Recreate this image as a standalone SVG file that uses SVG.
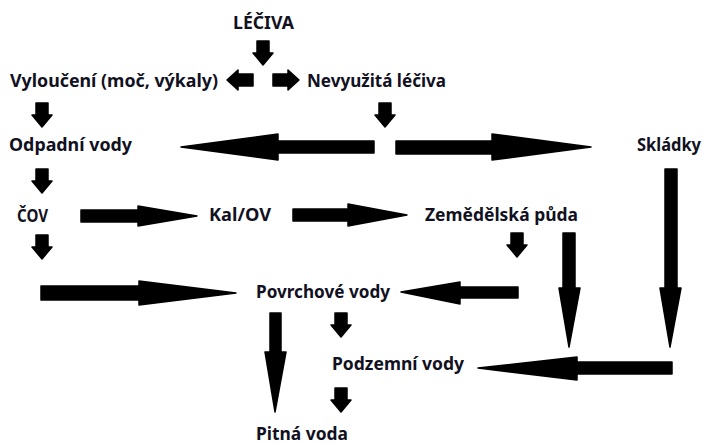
<svg xmlns="http://www.w3.org/2000/svg" width="704" height="444" viewBox="0 0 704 444">
<style>
  .lbl { font-family: "Noto Sans", "Open Sans", "Liberation Sans", sans-serif; font-weight: bold; font-size: 17.5px; fill: #111122; }
  .arr { fill: #000; stroke: #000; stroke-width: 1.5; stroke-linejoin: round; }
</style>
<defs>
  <path id="sdown" d="M-6,0 H6 V12 H10 L0,24 L-10,12 H-6 Z"/>
  <path id="sleft" d="M0,0 L11,-10 V-6 H26 V6 H11 V10 Z"/>
  <path id="sright" d="M0,0 L-11,-10 V-6 H-26 V6 H-11 V10 Z"/>
</defs>
<rect width="704" height="444" fill="#fff"/>

<g id="n-leciva"><text class="lbl" x="233" y="29" textLength="61" lengthAdjust="spacingAndGlyphs">LÉČIVA</text></g>
<g id="n-vylouceni"><text class="lbl" x="10" y="87" textLength="208" lengthAdjust="spacingAndGlyphs">Vyloučení (moč, výkaly)</text></g>
<g id="n-nevyuzita"><text class="lbl" x="307" y="87" textLength="139" lengthAdjust="spacingAndGlyphs">Nevyužitá léčiva</text></g>
<g id="n-odpadni"><text class="lbl" x="9" y="151" textLength="123" lengthAdjust="spacingAndGlyphs">Odpadní vody</text></g>
<g id="n-skladky"><text class="lbl" x="637" y="151" textLength="64" lengthAdjust="spacingAndGlyphs">Skládky</text></g>
<g id="n-cov"><text class="lbl" x="17" y="222" textLength="31" lengthAdjust="spacingAndGlyphs">ČOV</text></g>
<g id="n-kal"><text class="lbl" x="209" y="221" textLength="62" lengthAdjust="spacingAndGlyphs">Kal/OV</text></g>
<g id="n-zemedelska"><text class="lbl" x="425" y="221" textLength="153" lengthAdjust="spacingAndGlyphs">Zemědělská půda</text></g>
<g id="n-povrchove"><text class="lbl" x="256" y="298" textLength="134" lengthAdjust="spacingAndGlyphs">Povrchové vody</text></g>
<g id="n-podzemni"><text class="lbl" x="332" y="370" textLength="132" lengthAdjust="spacingAndGlyphs">Podzemní vody</text></g>
<g id="n-pitna"><text class="lbl" x="256" y="440" textLength="92" lengthAdjust="spacingAndGlyphs">Pitná voda</text></g>

<g id="connectors">
  <use href="#sdown" class="arr" x="263" y="41"/>
  <use href="#sleft" class="arr" x="227" y="80"/>
  <use href="#sright" class="arr" x="299" y="80"/>
  <use href="#sdown" class="arr" x="42" y="103"/>
  <use href="#sdown" class="arr" x="385" y="103"/>
  <use href="#sdown" class="arr" x="42" y="169"/>
  <use href="#sdown" class="arr" x="42" y="235"/>
  <use href="#sdown" class="arr" x="517" y="233"/>
  <use href="#sdown" class="arr" x="341" y="313"/>
  <use href="#sdown" class="arr" x="341" y="388"/>

  <!-- big left to Odpadní vody -->
  <polygon class="arr" points="181,147 278,134 278,141 374,141 374,153 278,153 278,160"/>
  <!-- big right to Skládky -->
  <polygon class="arr" points="591,147 492,134 492,141 396,141 396,154 492,154 492,160"/>
  <!-- ČOV to Kal/OV -->
  <polygon class="arr" points="197,216 138,206 138,210 81,210 81,222 138,222 138,226"/>
  <!-- Kal/OV to Zemědělská -->
  <polygon class="arr" points="407,215 348,204 348,209 293,209 293,221 348,221 348,226"/>
  <!-- long right to Povrchové -->
  <polygon class="arr" points="236,293 139,281 139,286 41,286 41,300 139,300 139,305"/>
  <!-- left to Povrchové -->
  <polygon class="arr" points="401,292 460,282 460,287 518,287 518,298 460,298 460,304"/>
  <!-- Zemědělská long down -->
  <polygon class="arr" points="569,347 559,288 563,288 563,233 575,233 575,288 580,288"/>
  <!-- Skládky long down -->
  <polygon class="arr" points="670,347 660,288 665,288 665,169 677,169 677,288 681,288"/>
  <!-- Povrchové to Pitná -->
  <polygon class="arr" points="275,412 265,352 270,352 270,313 281,313 281,352 286,352"/>
  <!-- left to Podzemní -->
  <polygon class="arr" points="478,368 577,357 577,362 672,362 672,374 577,374 577,380"/>
</g>
</svg>
